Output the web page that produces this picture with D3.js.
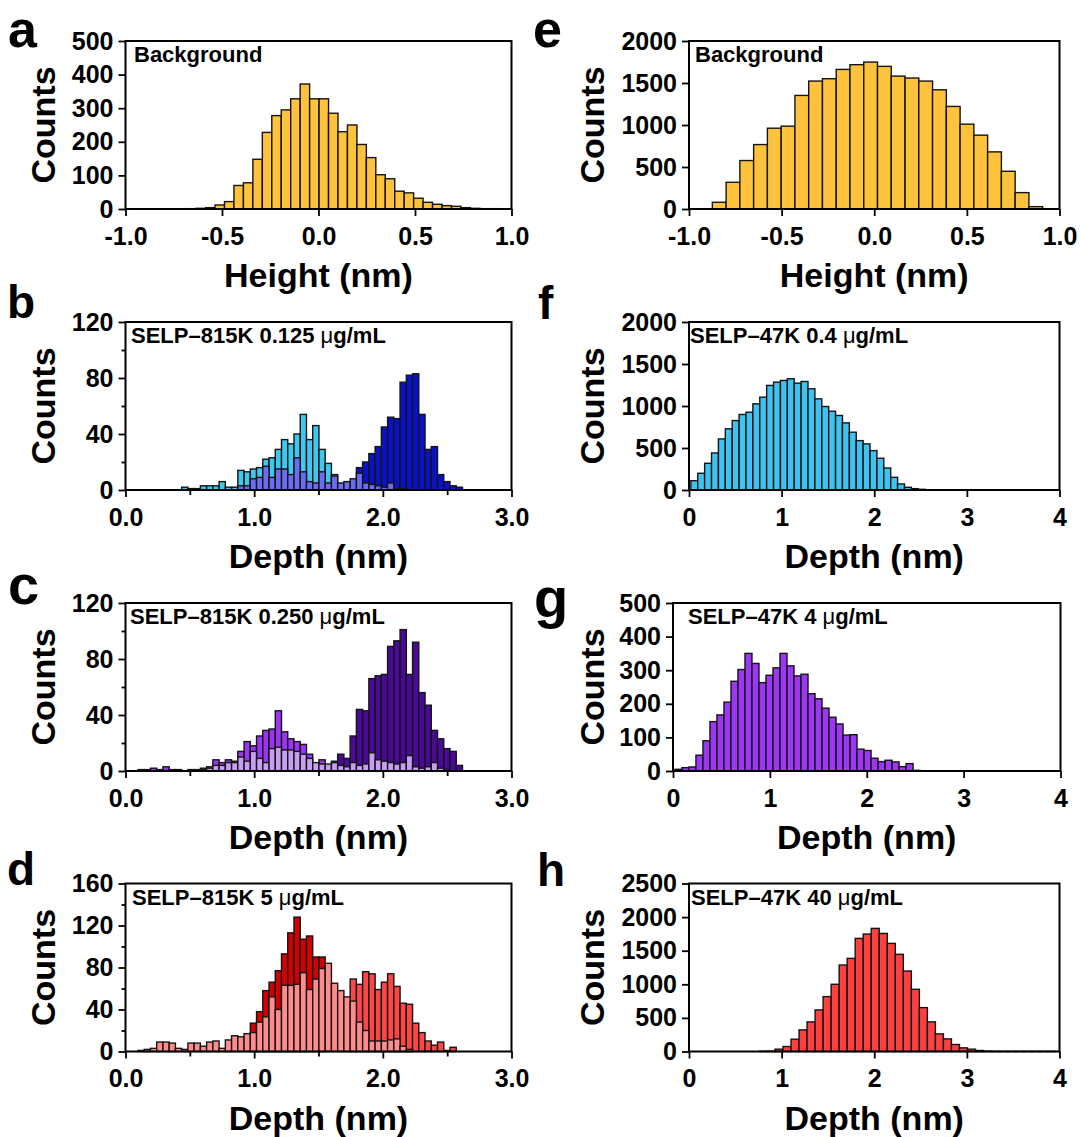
<!DOCTYPE html>
<html>
<head>
<meta charset="utf-8">
<script src="https://cdn.jsdelivr.net/npm/d3@7"></script>
<style>
  body { margin: 0; background: #fff; }
  svg text { font-family: "Liberation Sans", Arial, sans-serif; font-weight: bold; fill: #000; }
</style>
</head>
<body>
<svg id="fig" width="1081" height="1137"></svg>
<script>
// ---- data (bin start in nm, shared bin width per panel, counts per bin) ----

// a: background height
const aStart = -0.683, aWidth = 0.049;
const aCounts = [1,2,4,12,22,70,78,148,228,278,295,328,372,328,328,285,230,250,192,153,102,90,53,48,32,20,14,10,8,4,2,1,1];

// b: SELP-815K 0.125 ug/mL, three overlaid histograms
const bWidth = 0.0485;
const bCyanStart = 0.4365;
const bCyan = [2,1,1,3,3,3,6,2,2,14,13,15,16,22,23,29,36,33,40,54,36,46,29,19,11];
const bNavyStart = 1.7945;
const bNavy = [16,20,26,31,45,52,51,77,82,83,54,29,31,11,6,3,2];
const bLavStart = 0.873;
const bLav = [3,3,8,9,17,9,15,15,11,23,13,6,5,13,5,10,5,6,8,12,5,4,3,2,5,1,1];

// c: SELP-815K 0.250 ug/mL
const cWidth = 0.0485;
const cVioletStart = 0.097;
const cViolet = [1,1,2,1,3,1,1,0,1,1,2,3,8,6,8,7,14,21,18,25,29,30,43,28,23,21,19,12,5,8,4,7,5];
const cPurpleStart = 1.649;
const cPurple = [12,9,25,44,43,66,68,69,89,93,101,69,92,56,47,29,23,16,14,4];
const cLavStart = 0.582;
const cLav = [1,2,4,4,6,6,10,7,14,9,6,16,17,15,15,14,12,9,6,5,5,6,4,3,6,4,5,13,8,7,6,5,6,11,3,2,3,6,2,1];

// d: SELP-815K 5 ug/mL
const dWidth = 0.0485;
const dDarkStart = 0.97;
const dDark = [27,38,58,66,77,93,113,128,107,110,90,90];
const dRedStart = 1.746;
const dRed = [69,64,76,74,59,66,74,62,46,45,27,18,10,6,9,1,4];
const dPinkStart = 0.097;
const dPink = [1,2,3,9,9,8,3,2,8,8,5,9,10,3,11,15,14,17,18,28,33,52,40,63,63,64,75,59,69,79,84,65,58,52,48,28,20,10,10,10,11,12,5,2];

// e: background height (47K)
const eStart = -0.874, eWidth = 0.0743;
const eCounts = [80,318,577,767,962,986,1352,1523,1551,1662,1718,1749,1698,1582,1559,1523,1419,1221,1010,879,680,449,195,28];

// f: SELP-47K 0.4 ug/mL
const fStart = 0.02, fWidth = 0.0744;
const fCounts = [111,199,318,441,608,728,827,899,926,1026,1105,1245,1284,1304,1324,1272,1292,1205,1085,994,938,887,799,688,588,549,469,378,262,151,72,32,16,8];

// g: SELP-47K 4 ug/mL
const gStart = 0.02, gWidth = 0.0723;
const gCounts = [5,10,12,47,90,147,167,205,267,302,350,320,263,285,307,350,313,283,288,230,215,187,160,140,107,108,65,61,38,28,32,27,13,22,2];

// h: SELP-47K 40 ug/mL
const hStart = 0.755, hWidth = 0.0866;
const hCounts = [3,5,35,74,183,322,441,619,817,1000,1287,1386,1683,1748,1832,1757,1609,1446,1198,926,653,441,262,188,104,54,35,15,5,3,2,2,2,2,2,2,2];

// tick values
const heightTicks = [-1.0, -0.5, 0.0, 0.5, 1.0];
const depthTicks815 = [0, 1, 2, 3];
const depthMinor815 = [0.5, 1.5, 2.5];
const depthTicks47 = [0, 1, 2, 3, 4];

// ---- drawing ----
const svg = d3.select('#fig');
const FONT = '"Liberation Sans", Arial, sans-serif';

const leftCol = { left: 125.5, right: 511.5, titleX: 55 };
const rightCol = { left: 689, right: 1059.5, titleX: 604 };
const rowTop = [41, 322, 603, 883.5];
const plotH = 168;

function drawPanel(cfg) {
  const g = svg.append('g');
  const top = cfg.top, bottom = cfg.top + plotH;
  const x = d3.scaleLinear().domain(cfg.xDomain).range([cfg.left, cfg.right]);
  const y = d3.scaleLinear().domain(cfg.yDomain).range([bottom, top]);

  cfg.series.forEach(s => {
    g.append('g').selectAll('rect').data(s.values).join('rect')
      .attr('x', (d, i) => x(s.start + i * cfg.width))
      .attr('width', x(s.start + cfg.width) - x(s.start))
      .attr('y', d => y(d))
      .attr('height', d => y(0) - y(d))
      .attr('fill', s.color)
      .attr('stroke', '#141414')
      .attr('stroke-width', 1.4);
  });

  const styleAxis = a => {
    a.select('.domain').remove();
    a.selectAll('line').attr('stroke', '#000').attr('stroke-width', 1.8);
    a.selectAll('text').style('font', `bold 25px ${FONT}`).attr('fill', '#000');
  };

  g.append('g').attr('transform', `translate(0,${bottom})`)
    .call(d3.axisBottom(x).tickValues(cfg.xTicks).tickSize(7).tickPadding(11).tickFormat(cfg.xFmt))
    .call(styleAxis);
  if (cfg.xMinor) {
    g.append('g').attr('transform', `translate(0,${bottom})`)
      .call(d3.axisBottom(x).tickValues(cfg.xMinor).tickSize(5).tickFormat(''))
      .call(styleAxis);
  }
  g.append('g').attr('transform', `translate(${cfg.left},0)`)
    .call(d3.axisLeft(y).tickValues(cfg.yTicks).tickSize(7).tickPadding(5).tickFormat(d3.format('d')))
    .call(styleAxis);
  if (cfg.yMinor) {
    g.append('g').attr('transform', `translate(${cfg.left},0)`)
      .call(d3.axisLeft(y).tickValues(cfg.yMinor).tickSize(4).tickFormat(''))
      .call(styleAxis);
  }

  g.append('rect')
    .attr('x', cfg.left).attr('y', top)
    .attr('width', cfg.right - cfg.left).attr('height', plotH)
    .attr('fill', 'none').attr('stroke', '#000').attr('stroke-width', 2);

  // annotation inside frame
  const t = g.append('text').attr('x', cfg.labelX).attr('y', top + 21)
    .style('font-size', '22px');
  if (cfg.label.includes('μ')) {
    const parts = cfg.label.split('μ');
    t.append('tspan').text(parts[0]);
    t.append('tspan').style('font-weight', 'normal').text('μ');
    t.append('tspan').text(parts[1]);
  } else {
    t.text(cfg.label);
  }

  // axis titles
  g.append('text')
    .attr('transform', `translate(${cfg.titleX},${(top + bottom) / 2}) rotate(-90)`)
    .attr('text-anchor', 'middle').style('font-size', '34px').text('Counts');
  g.append('text')
    .attr('x', (cfg.left + cfg.right) / 2).attr('y', bottom + 78)
    .attr('text-anchor', 'middle').style('font-size', '34px').text(cfg.xTitle);

  // panel letter
  g.append('text').attr('x', cfg.letterX).attr('y', cfg.letterY)
    .style('font-size', cfg.letterSize + 'px').text(cfg.letter);
}

const fmt1 = d => d.toFixed(1);
const fmt0 = d => String(d);

drawPanel({ ...leftCol, top: rowTop[0], letter: 'a', letterX: 8, letterY: 47, letterSize: 52,
  xDomain: [-1, 1], yDomain: [0, 500], width: aWidth,
  xTicks: heightTicks, xFmt: fmt1, yTicks: [0,100,200,300,400,500],
  xTitle: 'Height (nm)', label: 'Background', labelX: 134,
  series: [{ start: aStart, values: aCounts, color: '#FFC23C' }] });

drawPanel({ ...leftCol, top: rowTop[1], letter: 'b', letterX: 7, letterY: 318, letterSize: 46,
  xDomain: [0, 3], yDomain: [0, 120], width: bWidth,
  xTicks: depthTicks815, xMinor: depthMinor815, xFmt: fmt1, yTicks: [0,40,80,120], yMinor: [20,60,100],
  xTitle: 'Depth (nm)', label: 'SELP–815K 0.125 μg/mL', labelX: 131,
  series: [
    { start: bCyanStart, values: bCyan, color: '#3EC8F0' },
    { start: bNavyStart, values: bNavy, color: '#0A12C8' },
    { start: bLavStart, values: bLav, color: '#6C6CF2' }
  ] });

drawPanel({ ...leftCol, top: rowTop[2], letter: 'c', letterX: 8, letterY: 604, letterSize: 56,
  xDomain: [0, 3], yDomain: [0, 120], width: cWidth,
  xTicks: depthTicks815, xMinor: depthMinor815, xFmt: fmt1, yTicks: [0,40,80,120], yMinor: [20,60,100],
  xTitle: 'Depth (nm)', label: 'SELP–815K 0.250 μg/mL', labelX: 130,
  series: [
    { start: cVioletStart, values: cViolet, color: '#9B34F3' },
    { start: cPurpleStart, values: cPurple, color: '#4A0A98' },
    { start: cLavStart, values: cLav, color: '#C79EF2' }
  ] });

drawPanel({ ...leftCol, top: rowTop[3], letter: 'd', letterX: 7, letterY: 885, letterSize: 46,
  xDomain: [0, 3], yDomain: [0, 160], width: dWidth,
  xTicks: depthTicks815, xMinor: depthMinor815, xFmt: fmt1, yTicks: [0,40,80,120,160], yMinor: [20,60,100,140],
  xTitle: 'Depth (nm)', label: 'SELP–815K 5 μg/mL', labelX: 132,
  series: [
    { start: dDarkStart, values: dDark, color: '#D20000' },
    { start: dRedStart, values: dRed, color: '#FF4646' },
    { start: dPinkStart, values: dPink, color: '#FF8C8C' }
  ] });

drawPanel({ ...rightCol, top: rowTop[0], letter: 'e', letterX: 533, letterY: 47, letterSize: 52,
  xDomain: [-1, 1], yDomain: [0, 2000], width: eWidth,
  xTicks: heightTicks, xFmt: fmt1, yTicks: [0,500,1000,1500,2000],
  xTitle: 'Height (nm)', label: 'Background', labelX: 695,
  series: [{ start: eStart, values: eCounts, color: '#FFC23C' }] });

drawPanel({ ...rightCol, top: rowTop[1], letter: 'f', letterX: 538, letterY: 319, letterSize: 46,
  xDomain: [0, 4], yDomain: [0, 2000], width: fWidth,
  xTicks: depthTicks47, xFmt: fmt0, yTicks: [0,500,1000,1500,2000],
  xTitle: 'Depth (nm)', label: 'SELP–47K 0.4 μg/mL', labelX: 690,
  series: [{ start: fStart, values: fCounts, color: '#3EC3F0' }] });

drawPanel({ ...rightCol, left: 673, right: 1060.5, top: rowTop[2], letter: 'g', letterX: 534, letterY: 617, letterSize: 56,
  xDomain: [0, 4], yDomain: [0, 500], width: gWidth,
  xTicks: depthTicks47, xFmt: fmt0, yTicks: [0,100,200,300,400,500],
  xTitle: 'Depth (nm)', label: 'SELP–47K 4 μg/mL', labelX: 688,
  series: [{ start: gStart, values: gCounts, color: '#9B37F5' }] });

drawPanel({ ...rightCol, top: rowTop[3], letter: 'h', letterX: 537, letterY: 886, letterSize: 46,
  xDomain: [0, 4], yDomain: [0, 2500], width: hWidth,
  xTicks: depthTicks47, xFmt: fmt0, yTicks: [0,500,1000,1500,2000,2500],
  xTitle: 'Depth (nm)', label: 'SELP–47K 40 μg/mL', labelX: 691,
  series: [{ start: hStart, values: hCounts, color: '#FF4040' }] });
</script>
</body>
</html>
